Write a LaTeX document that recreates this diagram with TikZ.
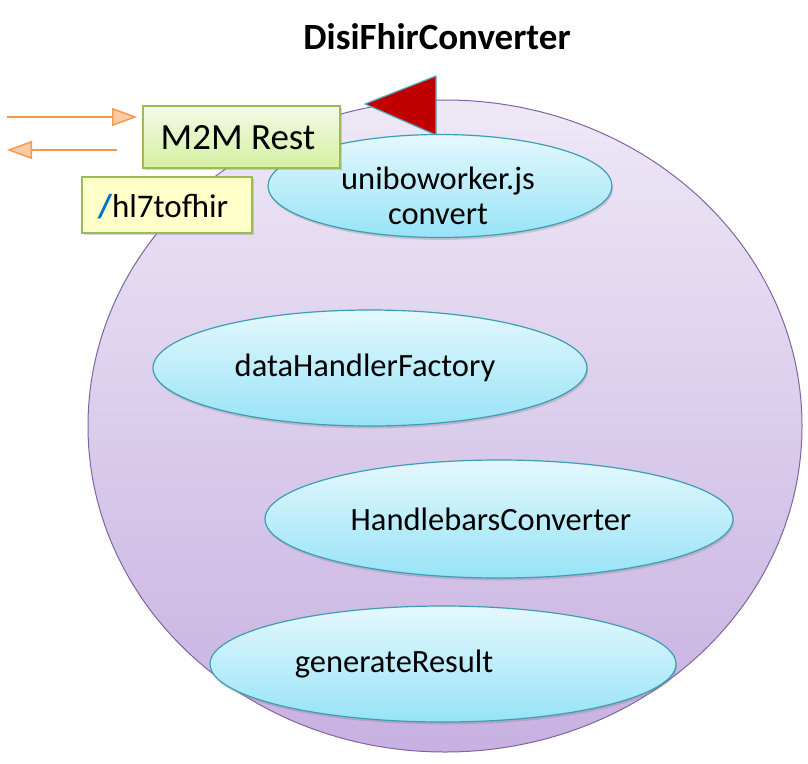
\documentclass[tikz,border=0pt]{standalone}
\usepackage{fontspec}
\setmainfont{Carlito}
\usetikzlibrary{shapes.geometric,arrows.meta,shadows}
\definecolor{bigtop}{HTML}{EEE8F6}
\definecolor{bigbot}{HTML}{C7B1E1}
\definecolor{bigline}{HTML}{8064A2}
\definecolor{eltop}{HTML}{E4F8FD}
\definecolor{elbot}{HTML}{97E3F7}
\definecolor{elline}{HTML}{3C9DB5}
\definecolor{grtop}{HTML}{F3FAE7}
\definecolor{grbot}{HTML}{D5F0A2}
\definecolor{grline}{HTML}{9BBB59}
\definecolor{yel}{HTML}{FFFFC9}
\definecolor{orng}{HTML}{F79646}
\definecolor{orngl}{HTML}{FBCBA3}
\definecolor{trired}{HTML}{C00000}
\definecolor{tricyan}{HTML}{4BACC6}
\definecolor{slash}{HTML}{0070C0}
\tikzset{
  bigell/.style={ellipse, draw=bigline, line width=1pt, top color=bigtop, bottom color=bigbot, inner sep=0pt},
  smallell/.style={ellipse, draw=elline, line width=1.2pt, top color=eltop, bottom color=elbot, inner sep=0pt,
     drop shadow={opacity=0.3, shadow xshift=1pt, shadow yshift=-2.5pt}},
  eltext/.style={font=\fontsize{32.5}{35}\selectfont, align=center, inner sep=0pt},
  greenbox/.style={draw=grline, line width=1.5pt, top color=grtop, bottom color=grbot, inner sep=0pt,
     drop shadow={opacity=0.3, shadow xshift=1.5pt, shadow yshift=-1.5pt}},
  yelbox/.style={draw=grline, line width=1.5pt, fill=yel, inner sep=0pt,
     drop shadow={opacity=0.3, shadow xshift=1.5pt, shadow yshift=-1.5pt}},
  flow/.style={draw=orng, line width=1.8pt, -{Triangle[length=25pt, width=18pt, fill=orngl, line width=1.4pt]}},
}
\begin{document}
\begin{tikzpicture}[x=1pt,y=-1pt]
\path[use as bounding box] (0,0) rectangle (808,763);
% title
\node[font=\fontsize{37}{44}\selectfont\bfseries, inner sep=0pt] (title) at (437,37) {DisiFhirConverter};
% big ellipse
\node[bigell, minimum width=714pt, minimum height=652pt] (big) at (445,426) {};
% triangle
\coordinate (t1) at (365,104);
\coordinate (t2) at (436,76);
\coordinate (t3) at (436,135);
\filldraw[fill=trired, draw=tricyan, line width=1.2pt, line join=round] (t1) -- (t2) -- (t3) -- cycle;
% small ellipses
\node[smallell, minimum width=344pt, minimum height=103pt] (uni) at (440,186) {};
\node[eltext] (unit) at (438,196) {uniboworker.js\\convert};
\node[smallell, minimum width=434pt, minimum height=116pt] (dhf) at (370,368) {};
\node[eltext] (dhft) at (365,368) {dataHandlerFactory};
\node[smallell, minimum width=468pt, minimum height=118pt] (hbc) at (499,519) {};
\node[eltext] (hbct) at (491,519) {HandlebarsConverter};
\node[smallell, minimum width=466pt, minimum height=116pt] (gen) at (443,664) {};
\node[eltext] (gent) at (394,664) {generateResult};
% boxes
\node[greenbox, minimum width=197pt, minimum height=62pt] (m2m) at (241.5,137) {};
\node[font=\fontsize{37}{44}\selectfont, inner sep=0pt] (m2mt) at (238,138) {M2M Rest};
\node[yelbox, minimum width=170pt, minimum height=56pt] (hl7) at (167,205) {};
\node[font=\fontsize{33}{40}\selectfont, inner sep=0pt] (hl7t) at (163,207) {{\color{slash}\bfseries/}hl7tofhir};
% arrows
\coordinate (inA) at (7,117);
\coordinate (inB) at (137,117);
\coordinate (outA) at (117,150);
\coordinate (outB) at (7,150);
\draw[flow] (inA) -- (inB);
\draw[flow] (outA) -- (outB);
\end{tikzpicture}
\end{document}
